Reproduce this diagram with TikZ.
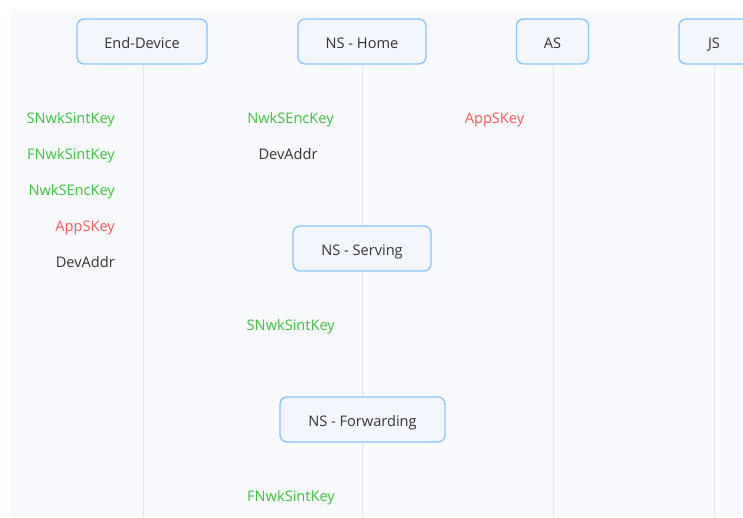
\documentclass[tikz,border=0pt]{standalone}
\usepackage{fontspec}
\setmainfont{Open Sans}
\definecolor{panel}{HTML}{F8FAFE}
\definecolor{boxfill}{HTML}{F3F6FD}
\definecolor{boxline}{HTML}{86C5FF}
\definecolor{life}{HTML}{E2E6EC}
\definecolor{keygreen}{HTML}{3CC43C}
\definecolor{keyred}{HTML}{F25B5B}
\definecolor{ink}{HTML}{333333}
\tikzset{
  actor/.style={draw=boxline, line width=1.3pt, fill=boxfill, rounded corners=7pt,
    minimum height=45pt, inner sep=0pt, text=ink, font=\fontsize{14.6}{17}\selectfont,
    text depth=0pt, text height=13.5pt},
  lifeline/.style={draw=life, line width=1pt},
  keylbl/.style={inner sep=0pt, font=\fontsize{14.6}{17}\selectfont,
    text depth=0pt, text height=10.5pt},
  green key/.style={keylbl, text=keygreen},
  red key/.style={keylbl, text=keyred},
  plain key/.style={keylbl, text=ink},
}
\begin{document}
\begin{tikzpicture}[x=1pt,y=-1pt]
\useasboundingbox (0,0) rectangle (743,517);
\fill[white] (0,0) rectangle (743,517);
\fill[panel] (10,10) rectangle (743,517);

% lifeline end points at the bottom edge
\coordinate (edEnd) at (143,517);
\coordinate (homeEnd) at (362,517);
\coordinate (asEnd) at (553,517);
\coordinate (jsEnd) at (714,517);

% participants
\node[actor, minimum width=130pt] (ed) at (142,41.5) {End-Device};
\node[actor, minimum width=128pt] (home) at (362,41.5) {NS - Home};
\node[actor, minimum width=72pt] (as) at (552.5,41.5) {AS};
\node[actor, minimum width=70pt] (js) at (714,41.5) {JS};
\node[actor, minimum width=138pt] (serving) at (362,248.5) {NS - Serving};
\node[actor, minimum width=165pt] (fwd) at (362.5,419.5) {NS - Forwarding};

% lifelines
\draw[lifeline] (ed.south -| edEnd) -- (edEnd);
\draw[lifeline] (home.south) -- (serving.north);
\draw[lifeline] (serving.south) -- (fwd.north -| serving.south);
\draw[lifeline] (fwd.south -| homeEnd) -- (homeEnd);
\draw[lifeline] (as.south -| asEnd) -- (asEnd);
\draw[lifeline] (js.south) -- (jsEnd);

% End-Device keys
\node[green key, anchor=east] (edK1) at (115,118) {SNwkSintKey};
\node[green key, anchor=east] (edK2) at (115,154) {FNwkSintKey};
\node[green key, anchor=east] (edK3) at (115,190) {NwkSEncKey};
\node[red key, anchor=east] (edK4) at (115,226) {AppSKey};
\node[plain key, anchor=east] (edK5) at (115,262) {DevAddr};

% NS - Home keys
\node[green key] (homeK1) at (290.5,118) {NwkSEncKey};
\node[plain key] (homeK2) at (288,154) {DevAddr};

% AS key
\node[red key] (asK1) at (494.5,118) {AppSKey};

% NS - Serving key
\node[green key, anchor=east] (servK1) at (335,325) {SNwkSintKey};

% NS - Forwarding key
\node[green key, anchor=east] (fwdK1) at (335,496) {FNwkSintKey};
\end{tikzpicture}
\end{document}
